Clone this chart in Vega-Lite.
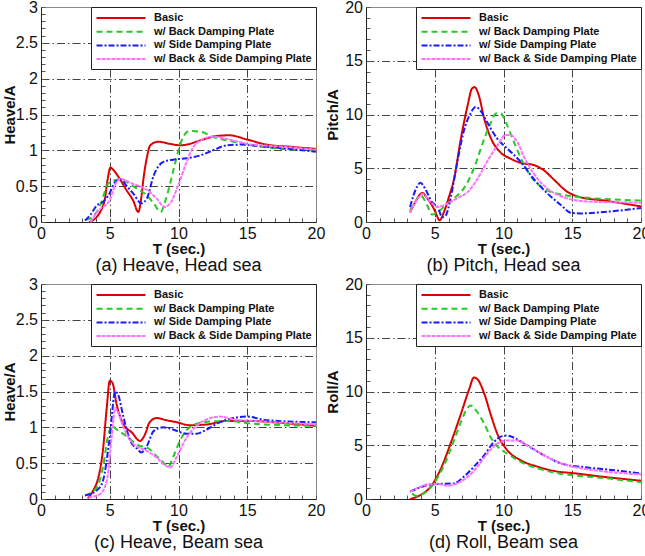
{
  "$schema": "https://vega.github.io/schema/vega-lite/v6.json",
  "padding": {"left": 2, "top": -2, "right": 0, "bottom": 0},
  "background": "white",
  "datasets": {
    "a": [
      {"s":"Basic","T":3.5,"v":0},{"s":"Basic","T":4.0,"v":0.06},{"s":"Basic","T":4.3,"v":0.14},{"s":"Basic","T":4.65,"v":0.33},{"s":"Basic","T":4.85,"v":0.6},{"s":"Basic","T":5.05,"v":0.76},{"s":"Basic","T":5.25,"v":0.73},{"s":"Basic","T":5.6,"v":0.64},{"s":"Basic","T":6.2,"v":0.45},{"s":"Basic","T":6.7,"v":0.3},{"s":"Basic","T":7.08,"v":0.14},{"s":"Basic","T":7.3,"v":0.35},{"s":"Basic","T":7.45,"v":0.6},{"s":"Basic","T":7.7,"v":0.9},{"s":"Basic","T":7.95,"v":1.07},{"s":"Basic","T":8.5,"v":1.12},{"s":"Basic","T":9.4,"v":1.09},{"s":"Basic","T":10.1,"v":1.07},{"s":"Basic","T":10.6,"v":1.08},{"s":"Basic","T":11.6,"v":1.14},{"s":"Basic","T":12.8,"v":1.2},{"s":"Basic","T":13.7,"v":1.21},{"s":"Basic","T":15,"v":1.15},{"s":"Basic","T":16.4,"v":1.08},{"s":"Basic","T":18.1,"v":1.05},{"s":"Basic","T":20,"v":1.02},
      {"s":"w/ Back Damping Plate","T":3.3,"v":0.03},{"s":"w/ Back Damping Plate","T":3.8,"v":0.08},{"s":"w/ Back Damping Plate","T":4.3,"v":0.23},{"s":"w/ Back Damping Plate","T":4.6,"v":0.4},{"s":"w/ Back Damping Plate","T":4.8,"v":0.51},{"s":"w/ Back Damping Plate","T":5.3,"v":0.58},{"s":"w/ Back Damping Plate","T":5.75,"v":0.59},{"s":"w/ Back Damping Plate","T":6.2,"v":0.56},{"s":"w/ Back Damping Plate","T":6.96,"v":0.47},{"s":"w/ Back Damping Plate","T":7.7,"v":0.37},{"s":"w/ Back Damping Plate","T":8.2,"v":0.26},{"s":"w/ Back Damping Plate","T":8.7,"v":0.14},{"s":"w/ Back Damping Plate","T":9.1,"v":0.33},{"s":"w/ Back Damping Plate","T":9.6,"v":0.7},{"s":"w/ Back Damping Plate","T":10,"v":1.0},{"s":"w/ Back Damping Plate","T":10.35,"v":1.19},{"s":"w/ Back Damping Plate","T":10.8,"v":1.27},{"s":"w/ Back Damping Plate","T":11.6,"v":1.26},{"s":"w/ Back Damping Plate","T":12.5,"v":1.19},{"s":"w/ Back Damping Plate","T":14,"v":1.12},{"s":"w/ Back Damping Plate","T":15.4,"v":1.07},{"s":"w/ Back Damping Plate","T":17.6,"v":1.02},{"s":"w/ Back Damping Plate","T":20,"v":1.0},
      {"s":"w/ Side Damping Plate","T":3.2,"v":0.02},{"s":"w/ Side Damping Plate","T":3.6,"v":0.1},{"s":"w/ Side Damping Plate","T":4.05,"v":0.23},{"s":"w/ Side Damping Plate","T":4.5,"v":0.28},{"s":"w/ Side Damping Plate","T":4.9,"v":0.37},{"s":"w/ Side Damping Plate","T":5.4,"v":0.56},{"s":"w/ Side Damping Plate","T":5.75,"v":0.6},{"s":"w/ Side Damping Plate","T":6.2,"v":0.51},{"s":"w/ Side Damping Plate","T":6.7,"v":0.4},{"s":"w/ Side Damping Plate","T":7.3,"v":0.26},{"s":"w/ Side Damping Plate","T":7.7,"v":0.33},{"s":"w/ Side Damping Plate","T":8.2,"v":0.65},{"s":"w/ Side Damping Plate","T":8.9,"v":0.84},{"s":"w/ Side Damping Plate","T":9.6,"v":0.87},{"s":"w/ Side Damping Plate","T":10.6,"v":0.89},{"s":"w/ Side Damping Plate","T":11.6,"v":0.93},{"s":"w/ Side Damping Plate","T":12.5,"v":1.0},{"s":"w/ Side Damping Plate","T":13.5,"v":1.07},{"s":"w/ Side Damping Plate","T":14.5,"v":1.08},{"s":"w/ Side Damping Plate","T":16.4,"v":1.05},{"s":"w/ Side Damping Plate","T":20,"v":0.98},
      {"s":"w/ Back & Side Damping Plate","T":3.6,"v":0},{"s":"w/ Back & Side Damping Plate","T":4.0,"v":0.12},{"s":"w/ Back & Side Damping Plate","T":4.4,"v":0.2},{"s":"w/ Back & Side Damping Plate","T":4.8,"v":0.25},{"s":"w/ Back & Side Damping Plate","T":5.05,"v":0.33},{"s":"w/ Back & Side Damping Plate","T":5.5,"v":0.56},{"s":"w/ Back & Side Damping Plate","T":5.75,"v":0.6},{"s":"w/ Back & Side Damping Plate","T":6.7,"v":0.53},{"s":"w/ Back & Side Damping Plate","T":7.7,"v":0.45},{"s":"w/ Back & Side Damping Plate","T":8.4,"v":0.33},{"s":"w/ Back & Side Damping Plate","T":9.0,"v":0.21},{"s":"w/ Back & Side Damping Plate","T":9.4,"v":0.26},{"s":"w/ Back & Side Damping Plate","T":9.9,"v":0.47},{"s":"w/ Back & Side Damping Plate","T":10.5,"v":0.79},{"s":"w/ Back & Side Damping Plate","T":11,"v":1.02},{"s":"w/ Back & Side Damping Plate","T":11.6,"v":1.14},{"s":"w/ Back & Side Damping Plate","T":12.5,"v":1.19},{"s":"w/ Back & Side Damping Plate","T":13.5,"v":1.16},{"s":"w/ Back & Side Damping Plate","T":15,"v":1.09},{"s":"w/ Back & Side Damping Plate","T":17.6,"v":1.05},{"s":"w/ Back & Side Damping Plate","T":20,"v":1.01}
    ],
    "b": [
      {"s":"Basic","T":3.2,"v":0.9},{"s":"Basic","T":3.6,"v":1.9},{"s":"Basic","T":3.96,"v":2.6},{"s":"Basic","T":4.1,"v":2.7},{"s":"Basic","T":4.45,"v":2.2},{"s":"Basic","T":4.8,"v":1.55},{"s":"Basic","T":5.05,"v":0.93},{"s":"Basic","T":5.35,"v":0.15},{"s":"Basic","T":5.66,"v":0.9},{"s":"Basic","T":6.0,"v":2.2},{"s":"Basic","T":6.4,"v":4.0},{"s":"Basic","T":6.9,"v":7.75},{"s":"Basic","T":7.4,"v":10.9},{"s":"Basic","T":7.7,"v":12.4},{"s":"Basic","T":7.9,"v":12.55},{"s":"Basic","T":8.2,"v":11.8},{"s":"Basic","T":8.6,"v":9.6},{"s":"Basic","T":9.1,"v":7.75},{"s":"Basic","T":9.8,"v":6.45},{"s":"Basic","T":10.5,"v":5.9},{"s":"Basic","T":11.25,"v":5.5},{"s":"Basic","T":12.2,"v":5.3},{"s":"Basic","T":12.95,"v":4.8},{"s":"Basic","T":13.7,"v":3.9},{"s":"Basic","T":14.65,"v":2.8},{"s":"Basic","T":15.6,"v":2.3},{"s":"Basic","T":17.3,"v":2.0},{"s":"Basic","T":20,"v":1.45},
      {"s":"w/ Back Damping Plate","T":3.2,"v":1.1},{"s":"w/ Back Damping Plate","T":3.6,"v":1.9},{"s":"w/ Back Damping Plate","T":3.96,"v":2.5},{"s":"w/ Back Damping Plate","T":4.45,"v":1.55},{"s":"w/ Back Damping Plate","T":4.8,"v":0.7},{"s":"w/ Back Damping Plate","T":5.2,"v":0.9},{"s":"w/ Back Damping Plate","T":5.66,"v":1.4},{"s":"w/ Back Damping Plate","T":6.4,"v":2.2},{"s":"w/ Back Damping Plate","T":7.1,"v":3.1},{"s":"w/ Back Damping Plate","T":7.85,"v":5.0},{"s":"w/ Back Damping Plate","T":8.6,"v":7.75},{"s":"w/ Back Damping Plate","T":9.1,"v":9.3},{"s":"w/ Back Damping Plate","T":9.45,"v":10.1},{"s":"w/ Back Damping Plate","T":9.8,"v":10.1},{"s":"w/ Back Damping Plate","T":10.16,"v":9.3},{"s":"w/ Back Damping Plate","T":10.77,"v":7.4},{"s":"w/ Back Damping Plate","T":11.5,"v":5.3},{"s":"w/ Back Damping Plate","T":12.2,"v":3.9},{"s":"w/ Back Damping Plate","T":13.2,"v":2.95},{"s":"w/ Back Damping Plate","T":14.4,"v":2.5},{"s":"w/ Back Damping Plate","T":16.1,"v":2.25},{"s":"w/ Back Damping Plate","T":18,"v":2.1},{"s":"w/ Back Damping Plate","T":20,"v":2.0},
      {"s":"w/ Side Damping Plate","T":3.2,"v":1.4},{"s":"w/ Side Damping Plate","T":3.7,"v":3.25},{"s":"w/ Side Damping Plate","T":3.96,"v":3.65},{"s":"w/ Side Damping Plate","T":4.3,"v":3.1},{"s":"w/ Side Damping Plate","T":4.8,"v":1.85},{"s":"w/ Side Damping Plate","T":5.2,"v":1.4},{"s":"w/ Side Damping Plate","T":5.55,"v":0.45},{"s":"w/ Side Damping Plate","T":5.8,"v":0.6},{"s":"w/ Side Damping Plate","T":6.15,"v":2.2},{"s":"w/ Side Damping Plate","T":6.6,"v":5.3},{"s":"w/ Side Damping Plate","T":7.1,"v":8.4},{"s":"w/ Side Damping Plate","T":7.6,"v":10.1},{"s":"w/ Side Damping Plate","T":7.97,"v":10.7},{"s":"w/ Side Damping Plate","T":8.3,"v":10.4},{"s":"w/ Side Damping Plate","T":8.8,"v":9.3},{"s":"w/ Side Damping Plate","T":9.55,"v":7.75},{"s":"w/ Side Damping Plate","T":10.3,"v":6.8},{"s":"w/ Side Damping Plate","T":11.25,"v":5.6},{"s":"w/ Side Damping Plate","T":12.2,"v":4.0},{"s":"w/ Side Damping Plate","T":13.2,"v":2.65},{"s":"w/ Side Damping Plate","T":14.2,"v":1.55},{"s":"w/ Side Damping Plate","T":14.9,"v":0.85},{"s":"w/ Side Damping Plate","T":15.6,"v":0.8},{"s":"w/ Side Damping Plate","T":17.3,"v":0.93},{"s":"w/ Side Damping Plate","T":20,"v":1.3},
      {"s":"w/ Back & Side Damping Plate","T":3.2,"v":0.93},{"s":"w/ Back & Side Damping Plate","T":3.85,"v":2.3},{"s":"w/ Back & Side Damping Plate","T":4.1,"v":2.6},{"s":"w/ Back & Side Damping Plate","T":4.7,"v":1.85},{"s":"w/ Back & Side Damping Plate","T":5.2,"v":1.4},{"s":"w/ Back & Side Damping Plate","T":5.9,"v":1.7},{"s":"w/ Back & Side Damping Plate","T":6.6,"v":2.2},{"s":"w/ Back & Side Damping Plate","T":7.4,"v":2.8},{"s":"w/ Back & Side Damping Plate","T":8.1,"v":4.0},{"s":"w/ Back & Side Damping Plate","T":8.8,"v":5.6},{"s":"w/ Back & Side Damping Plate","T":9.55,"v":7.1},{"s":"w/ Back & Side Damping Plate","T":10.16,"v":8.1},{"s":"w/ Back & Side Damping Plate","T":10.5,"v":8.1},{"s":"w/ Back & Side Damping Plate","T":11.0,"v":7.45},{"s":"w/ Back & Side Damping Plate","T":11.5,"v":6.05},{"s":"w/ Back & Side Damping Plate","T":12.2,"v":4.5},{"s":"w/ Back & Side Damping Plate","T":13.2,"v":3.1},{"s":"w/ Back & Side Damping Plate","T":14.4,"v":2.3},{"s":"w/ Back & Side Damping Plate","T":16.1,"v":1.9},{"s":"w/ Back & Side Damping Plate","T":20,"v":1.8}
    ],
    "c": [
      {"s":"Basic","T":3.4,"v":0.01},{"s":"Basic","T":3.8,"v":0.12},{"s":"Basic","T":4.17,"v":0.3},{"s":"Basic","T":4.5,"v":0.67},{"s":"Basic","T":4.78,"v":1.27},{"s":"Basic","T":5.0,"v":1.65},{"s":"Basic","T":5.2,"v":1.62},{"s":"Basic","T":5.5,"v":1.32},{"s":"Basic","T":6.0,"v":1.04},{"s":"Basic","T":6.6,"v":0.93},{"s":"Basic","T":7.2,"v":0.81},{"s":"Basic","T":7.56,"v":0.9},{"s":"Basic","T":7.9,"v":1.07},{"s":"Basic","T":8.4,"v":1.13},{"s":"Basic","T":9.1,"v":1.1},{"s":"Basic","T":9.9,"v":1.07},{"s":"Basic","T":10.8,"v":1.03},{"s":"Basic","T":12.05,"v":1.04},{"s":"Basic","T":13.5,"v":1.09},{"s":"Basic","T":15,"v":1.09},{"s":"Basic","T":17.6,"v":1.06},{"s":"Basic","T":20,"v":1.02},
      {"s":"w/ Back Damping Plate","T":3.2,"v":0.05},{"s":"w/ Back Damping Plate","T":4.05,"v":0.16},{"s":"w/ Back Damping Plate","T":4.5,"v":0.44},{"s":"w/ Back Damping Plate","T":4.9,"v":0.9},{"s":"w/ Back Damping Plate","T":5.14,"v":1.02},{"s":"w/ Back Damping Plate","T":5.5,"v":0.97},{"s":"w/ Back Damping Plate","T":6.2,"v":0.88},{"s":"w/ Back Damping Plate","T":7.2,"v":0.74},{"s":"w/ Back Damping Plate","T":7.7,"v":0.72},{"s":"w/ Back Damping Plate","T":8.4,"v":0.6},{"s":"w/ Back Damping Plate","T":8.9,"v":0.51},{"s":"w/ Back Damping Plate","T":9.26,"v":0.45},{"s":"w/ Back Damping Plate","T":9.6,"v":0.58},{"s":"w/ Back Damping Plate","T":10.1,"v":0.81},{"s":"w/ Back Damping Plate","T":10.8,"v":1.0},{"s":"w/ Back Damping Plate","T":11.8,"v":1.07},{"s":"w/ Back Damping Plate","T":13.5,"v":1.09},{"s":"w/ Back Damping Plate","T":15.4,"v":1.05},{"s":"w/ Back Damping Plate","T":20,"v":1.02},
      {"s":"w/ Side Damping Plate","T":3.2,"v":0.05},{"s":"w/ Side Damping Plate","T":4.05,"v":0.12},{"s":"w/ Side Damping Plate","T":4.5,"v":0.25},{"s":"w/ Side Damping Plate","T":5.0,"v":0.86},{"s":"w/ Side Damping Plate","T":5.4,"v":1.5},{"s":"w/ Side Damping Plate","T":5.6,"v":1.46},{"s":"w/ Side Damping Plate","T":6.0,"v":1.14},{"s":"w/ Side Damping Plate","T":6.5,"v":0.81},{"s":"w/ Side Damping Plate","T":7.0,"v":0.7},{"s":"w/ Side Damping Plate","T":7.3,"v":0.65},{"s":"w/ Side Damping Plate","T":7.7,"v":0.74},{"s":"w/ Side Damping Plate","T":8.2,"v":0.95},{"s":"w/ Side Damping Plate","T":8.9,"v":1.0},{"s":"w/ Side Damping Plate","T":9.6,"v":0.97},{"s":"w/ Side Damping Plate","T":10.6,"v":0.91},{"s":"w/ Side Damping Plate","T":11.3,"v":0.91},{"s":"w/ Side Damping Plate","T":12.05,"v":0.97},{"s":"w/ Side Damping Plate","T":13,"v":1.07},{"s":"w/ Side Damping Plate","T":14,"v":1.13},{"s":"w/ Side Damping Plate","T":15,"v":1.15},{"s":"w/ Side Damping Plate","T":16.4,"v":1.1},{"s":"w/ Side Damping Plate","T":20,"v":1.07},
      {"s":"w/ Back & Side Damping Plate","T":3.45,"v":0.02},{"s":"w/ Back & Side Damping Plate","T":4.3,"v":0.07},{"s":"w/ Back & Side Damping Plate","T":4.78,"v":0.25},{"s":"w/ Back & Side Damping Plate","T":5.14,"v":0.86},{"s":"w/ Back & Side Damping Plate","T":5.4,"v":1.27},{"s":"w/ Back & Side Damping Plate","T":5.55,"v":1.23},{"s":"w/ Back & Side Damping Plate","T":6.0,"v":1.0},{"s":"w/ Back & Side Damping Plate","T":6.7,"v":0.77},{"s":"w/ Back & Side Damping Plate","T":7.7,"v":0.67},{"s":"w/ Back & Side Damping Plate","T":8.4,"v":0.58},{"s":"w/ Back & Side Damping Plate","T":9.1,"v":0.46},{"s":"w/ Back & Side Damping Plate","T":9.4,"v":0.44},{"s":"w/ Back & Side Damping Plate","T":9.9,"v":0.6},{"s":"w/ Back & Side Damping Plate","T":10.6,"v":0.86},{"s":"w/ Back & Side Damping Plate","T":11.3,"v":1.02},{"s":"w/ Back & Side Damping Plate","T":12.05,"v":1.11},{"s":"w/ Back & Side Damping Plate","T":13,"v":1.15},{"s":"w/ Back & Side Damping Plate","T":14,"v":1.11},{"s":"w/ Back & Side Damping Plate","T":15.4,"v":1.09},{"s":"w/ Back & Side Damping Plate","T":20,"v":1.04}
    ],
    "d": [
      {"s":"Basic","T":3.2,"v":0},{"s":"Basic","T":3.96,"v":0.37},{"s":"Basic","T":4.7,"v":1.14},{"s":"Basic","T":5.4,"v":2.7},{"s":"Basic","T":6.15,"v":5.15},{"s":"Basic","T":6.9,"v":7.9},{"s":"Basic","T":7.5,"v":10.2},{"s":"Basic","T":7.85,"v":11.3},{"s":"Basic","T":8.1,"v":11.15},{"s":"Basic","T":8.6,"v":9.8},{"s":"Basic","T":9.06,"v":7.9},{"s":"Basic","T":9.55,"v":6.07},{"s":"Basic","T":10.3,"v":4.5},{"s":"Basic","T":11.25,"v":3.6},{"s":"Basic","T":12.5,"v":3.0},{"s":"Basic","T":13.7,"v":2.6},{"s":"Basic","T":15.1,"v":2.4},{"s":"Basic","T":17.3,"v":2.06},{"s":"Basic","T":20,"v":1.7},
      {"s":"w/ Back Damping Plate","T":3.35,"v":0.5},{"s":"w/ Back Damping Plate","T":3.7,"v":0.28},{"s":"w/ Back Damping Plate","T":4.2,"v":0.52},{"s":"w/ Back Damping Plate","T":4.9,"v":1.4},{"s":"w/ Back Damping Plate","T":5.66,"v":3.1},{"s":"w/ Back Damping Plate","T":6.4,"v":5.45},{"s":"w/ Back Damping Plate","T":6.9,"v":7.15},{"s":"w/ Back Damping Plate","T":7.4,"v":8.5},{"s":"w/ Back Damping Plate","T":7.6,"v":8.7},{"s":"w/ Back Damping Plate","T":8.1,"v":8.07},{"s":"w/ Back Damping Plate","T":8.6,"v":7.0},{"s":"w/ Back Damping Plate","T":9.06,"v":5.75},{"s":"w/ Back Damping Plate","T":9.55,"v":4.9},{"s":"w/ Back Damping Plate","T":10.3,"v":4.2},{"s":"w/ Back Damping Plate","T":11.25,"v":3.45},{"s":"w/ Back Damping Plate","T":12.5,"v":2.85},{"s":"w/ Back Damping Plate","T":13.7,"v":2.45},{"s":"w/ Back Damping Plate","T":15.1,"v":2.2},{"s":"w/ Back Damping Plate","T":17.3,"v":1.95},{"s":"w/ Back Damping Plate","T":20,"v":1.55},
      {"s":"w/ Side Damping Plate","T":3.2,"v":0.68},{"s":"w/ Side Damping Plate","T":3.96,"v":1.08},{"s":"w/ Side Damping Plate","T":4.7,"v":1.35},{"s":"w/ Side Damping Plate","T":5.4,"v":1.4},{"s":"w/ Side Damping Plate","T":6.4,"v":1.45},{"s":"w/ Side Damping Plate","T":7.1,"v":2.06},{"s":"w/ Side Damping Plate","T":7.85,"v":3.0},{"s":"w/ Side Damping Plate","T":8.6,"v":4.07},{"s":"w/ Side Damping Plate","T":9.3,"v":5.3},{"s":"w/ Side Damping Plate","T":9.9,"v":5.85},{"s":"w/ Side Damping Plate","T":10.3,"v":5.9},{"s":"w/ Side Damping Plate","T":10.77,"v":5.7},{"s":"w/ Side Damping Plate","T":11.7,"v":5.0},{"s":"w/ Side Damping Plate","T":12.95,"v":4.07},{"s":"w/ Side Damping Plate","T":14.2,"v":3.3},{"s":"w/ Side Damping Plate","T":16.1,"v":2.93},{"s":"w/ Side Damping Plate","T":18.05,"v":2.68},{"s":"w/ Side Damping Plate","T":20,"v":2.37},
      {"s":"w/ Back & Side Damping Plate","T":3.2,"v":0.68},{"s":"w/ Back & Side Damping Plate","T":3.96,"v":1.14},{"s":"w/ Back & Side Damping Plate","T":4.7,"v":1.4},{"s":"w/ Back & Side Damping Plate","T":5.2,"v":1.4},{"s":"w/ Back & Side Damping Plate","T":5.9,"v":1.23},{"s":"w/ Back & Side Damping Plate","T":6.6,"v":1.45},{"s":"w/ Back & Side Damping Plate","T":7.4,"v":2.06},{"s":"w/ Back & Side Damping Plate","T":8.1,"v":3.0},{"s":"w/ Back & Side Damping Plate","T":8.8,"v":4.2},{"s":"w/ Back & Side Damping Plate","T":9.55,"v":5.15},{"s":"w/ Back & Side Damping Plate","T":10.3,"v":5.45},{"s":"w/ Back & Side Damping Plate","T":11.0,"v":5.45},{"s":"w/ Back & Side Damping Plate","T":11.7,"v":5.0},{"s":"w/ Back & Side Damping Plate","T":12.95,"v":4.07},{"s":"w/ Back & Side Damping Plate","T":14.2,"v":3.3},{"s":"w/ Back & Side Damping Plate","T":16.1,"v":2.77},{"s":"w/ Back & Side Damping Plate","T":18.05,"v":2.47},{"s":"w/ Back & Side Damping Plate","T":20,"v":2.28}
    ]
  },
  "columns": 2,
  "spacing": {"row": 62, "column": 50},
  "bounds": "flush",
  "resolve": {
    "scale": {"x": "independent", "y": "independent", "color": "independent", "strokeDash": "independent"},
    "legend": {"color": "independent", "strokeDash": "independent"}
  },
  "concat": [
    {
      "data": {"name": "a"},
      "width": 275, "height": 215,
      "title": "(a) Heave, Head sea",
      "mark": {"type": "line", "interpolate": "monotone", "strokeWidth": 2},
      "encoding": {
        "x": {"field": "T", "type": "quantitative", "scale": {"domain": [0, 20], "nice": false},
          "axis": {"title": "T (sec.)", "titleY": 31, "titleBaseline": "alphabetic", "values": [0,1,2,3,4,5,6,7,8,9,10,11,12,13,14,15,16,17,18,19,20],
            "labelExpr": "datum.value % 5 == 0 ? datum.label : ''",
            "gridOpacity": {"condition": {"test": "datum.value % 5 == 0 && datum.value > 0 && datum.value < 20", "value": 1}, "value": 0}}},
        "y": {"field": "v", "type": "quantitative", "scale": {"domain": [0, 3], "nice": false},
          "axis": {"title": "Heave/A", "titleX": -26.5, "format": ".1~f",
            "values": [0,0.1,0.2,0.3,0.4,0.5,0.6,0.7,0.8,0.9,1,1.1,1.2,1.3,1.4,1.5,1.6,1.7,1.8,1.9,2,2.1,2.2,2.3,2.4,2.5,2.6,2.7,2.8,2.9,3],
            "labelExpr": "round(datum.value*10) % 5 == 0 ? datum.label : ''",
            "gridOpacity": {"condition": {"test": "round(datum.value*10) % 5 == 0 && datum.value > 0.05 && datum.value < 2.95", "value": 1}, "value": 0}}},
        "color": {"field": "s", "type": "nominal", "legend": {"title": null},
          "scale": {"domain": ["Basic", "w/ Back Damping Plate", "w/ Side Damping Plate", "w/ Back & Side Damping Plate"], "range": ["#dd0000", "#22cc22", "#1a1aff", "#ff70ff"]}},
        "strokeDash": {"field": "s", "type": "nominal", "legend": {"title": null},
          "scale": {"domain": ["Basic", "w/ Back Damping Plate", "w/ Side Damping Plate", "w/ Back & Side Damping Plate"], "range": [[1, 0], [6, 4], [6, 2, 2, 2], [4, 1]]}}
      }
    },
    {
      "data": {"name": "b"},
      "width": 275, "height": 215,
      "title": "(b) Pitch, Head sea",
      "mark": {"type": "line", "interpolate": "monotone", "strokeWidth": 2},
      "encoding": {
        "x": {"field": "T", "type": "quantitative", "scale": {"domain": [0, 20], "nice": false},
          "axis": {"title": "T (sec.)", "titleY": 31, "titleBaseline": "alphabetic", "values": [0,1,2,3,4,5,6,7,8,9,10,11,12,13,14,15,16,17,18,19,20],
            "labelExpr": "datum.value % 5 == 0 ? datum.label : ''",
            "gridOpacity": {"condition": {"test": "datum.value % 5 == 0 && datum.value > 0 && datum.value < 20", "value": 1}, "value": 0}}},
        "y": {"field": "v", "type": "quantitative", "scale": {"domain": [0, 20], "nice": false},
          "axis": {"title": "Pitch/A", "titleX": -29,
            "values": [0,1,2,3,4,5,6,7,8,9,10,11,12,13,14,15,16,17,18,19,20],
            "labelExpr": "datum.value % 5 == 0 ? datum.label : ''",
            "gridOpacity": {"condition": {"test": "datum.value % 5 == 0 && datum.value > 0 && datum.value < 20", "value": 1}, "value": 0}}},
        "color": {"field": "s", "type": "nominal", "legend": {"title": null},
          "scale": {"domain": ["Basic", "w/ Back Damping Plate", "w/ Side Damping Plate", "w/ Back & Side Damping Plate"], "range": ["#dd0000", "#22cc22", "#1a1aff", "#ff70ff"]}},
        "strokeDash": {"field": "s", "type": "nominal", "legend": {"title": null},
          "scale": {"domain": ["Basic", "w/ Back Damping Plate", "w/ Side Damping Plate", "w/ Back & Side Damping Plate"], "range": [[1, 0], [6, 4], [6, 2, 2, 2], [4, 1]]}}
      }
    },
    {
      "data": {"name": "c"},
      "width": 275, "height": 215,
      "title": "(c) Heave, Beam sea",
      "mark": {"type": "line", "interpolate": "monotone", "strokeWidth": 2},
      "encoding": {
        "x": {"field": "T", "type": "quantitative", "scale": {"domain": [0, 20], "nice": false},
          "axis": {"title": "T (sec.)", "titleY": 31, "titleBaseline": "alphabetic", "values": [0,1,2,3,4,5,6,7,8,9,10,11,12,13,14,15,16,17,18,19,20],
            "labelExpr": "datum.value % 5 == 0 ? datum.label : ''",
            "gridOpacity": {"condition": {"test": "datum.value % 5 == 0 && datum.value > 0 && datum.value < 20", "value": 1}, "value": 0}}},
        "y": {"field": "v", "type": "quantitative", "scale": {"domain": [0, 3], "nice": false},
          "axis": {"title": "Heave/A", "titleX": -26.5, "format": ".1~f",
            "values": [0,0.1,0.2,0.3,0.4,0.5,0.6,0.7,0.8,0.9,1,1.1,1.2,1.3,1.4,1.5,1.6,1.7,1.8,1.9,2,2.1,2.2,2.3,2.4,2.5,2.6,2.7,2.8,2.9,3],
            "labelExpr": "round(datum.value*10) % 5 == 0 ? datum.label : ''",
            "gridOpacity": {"condition": {"test": "round(datum.value*10) % 5 == 0 && datum.value > 0.05 && datum.value < 2.95", "value": 1}, "value": 0}}},
        "color": {"field": "s", "type": "nominal", "legend": {"title": null},
          "scale": {"domain": ["Basic", "w/ Back Damping Plate", "w/ Side Damping Plate", "w/ Back & Side Damping Plate"], "range": ["#dd0000", "#22cc22", "#1a1aff", "#ff70ff"]}},
        "strokeDash": {"field": "s", "type": "nominal", "legend": {"title": null},
          "scale": {"domain": ["Basic", "w/ Back Damping Plate", "w/ Side Damping Plate", "w/ Back & Side Damping Plate"], "range": [[1, 0], [6, 4], [6, 2, 2, 2], [4, 1]]}}
      }
    },
    {
      "data": {"name": "d"},
      "width": 275, "height": 215,
      "title": "(d) Roll, Beam sea",
      "mark": {"type": "line", "interpolate": "monotone", "strokeWidth": 2},
      "encoding": {
        "x": {"field": "T", "type": "quantitative", "scale": {"domain": [0, 20], "nice": false},
          "axis": {"title": "T (sec.)", "titleY": 31, "titleBaseline": "alphabetic", "values": [0,1,2,3,4,5,6,7,8,9,10,11,12,13,14,15,16,17,18,19,20],
            "labelExpr": "datum.value % 5 == 0 ? datum.label : ''",
            "gridOpacity": {"condition": {"test": "datum.value % 5 == 0 && datum.value > 0 && datum.value < 20", "value": 1}, "value": 0}}},
        "y": {"field": "v", "type": "quantitative", "scale": {"domain": [0, 20], "nice": false},
          "axis": {"title": "Roll/A", "titleX": -29,
            "values": [0,1,2,3,4,5,6,7,8,9,10,11,12,13,14,15,16,17,18,19,20],
            "labelExpr": "datum.value % 5 == 0 ? datum.label : ''",
            "gridOpacity": {"condition": {"test": "datum.value % 5 == 0 && datum.value > 0 && datum.value < 20", "value": 1}, "value": 0}}},
        "color": {"field": "s", "type": "nominal", "legend": {"title": null},
          "scale": {"domain": ["Basic", "w/ Back Damping Plate", "w/ Side Damping Plate", "w/ Back & Side Damping Plate"], "range": ["#dd0000", "#22cc22", "#1a1aff", "#ff70ff"]}},
        "strokeDash": {"field": "s", "type": "nominal", "legend": {"title": null},
          "scale": {"domain": ["Basic", "w/ Back Damping Plate", "w/ Side Damping Plate", "w/ Back & Side Damping Plate"], "range": [[1, 0], [6, 4], [6, 2, 2, 2], [4, 1]]}}
      }
    }
  ],
  "config": {
    "font": "Liberation Sans",
    "view": {"stroke": "#8a8a8a", "strokeWidth": 1},
    "axis": {
      "domainColor": "#222222", "domainWidth": 1,
      "tickColor": "#555555", "tickSize": -4, "tickWidth": 1,
      "labelFont": "Liberation Sans", "labelFontSize": 16, "labelColor": "#111111",
      "labelOverlap": false, "labelFlush": false, "labelBound": false,
      "titleFont": "Liberation Sans", "titleFontSize": 15, "titleFontWeight": "bold", "titleColor": "#111111",
      "grid": true, "gridColor": "#444444", "gridDash": [8, 3, 1.5, 3], "gridWidth": 1
    },
    "axisX": {"labelPadding": 7},
    "axisY": {"labelPadding": 7.5, "titleBaseline": "alphabetic"},
    "legend": {
      "orient": "top-right", "offset": 0,
      "fillColor": "white", "strokeColor": "#222222", "padding": 4,
      "labelFont": "Liberation Sans", "labelFontSize": 11, "labelFontWeight": "bold", "labelColor": "#111111", "labelLimit": 400,
      "symbolType": "M-4.08,0H4.08", "symbolSize": 144, "symbolStrokeWidth": 2,
      "symbolOffset": 19, "labelOffset": 26, "rowPadding": 1.7
    },
    "title": {"orient": "bottom", "font": "Liberation Sans", "fontSize": 18, "fontWeight": "normal", "color": "#111111", "offset": 1}
  }
}
